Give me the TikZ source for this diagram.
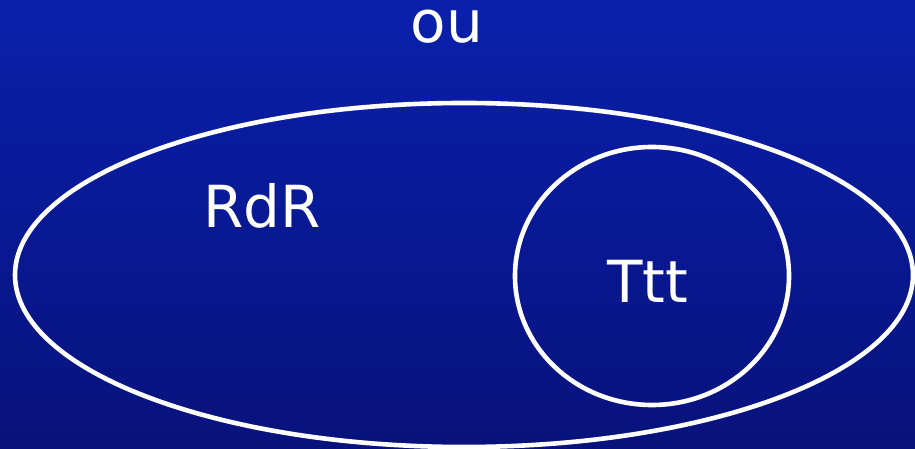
\documentclass[tikz,border=0pt]{standalone}
\usepackage{fontspec}
\setmainfont{DejaVu Sans}
\definecolor{bgtop}{RGB}{10,32,172}
\definecolor{bgbot}{RGB}{8,18,124}
\tikzset{
  label/.style={text=white, inner sep=0pt, anchor=base, font=\fontsize{58}{60}\selectfont},
  outline/.style={draw=white, line width=4.6pt}
}
\begin{document}
\begin{tikzpicture}[x=1pt,y=1pt]
\shade[top color=bgtop, bottom color=bgbot] (0,0) rectangle (915,449);
\useasboundingbox (0,0) rectangle (915,449);
\draw[outline] (464,174) ellipse [x radius=449, y radius=172];
\draw[outline] (652,173) ellipse [x radius=137, y radius=129];
\node[label] (ou) at (447,406) {ou};
\node[label] (rdr) at (262,221) {RdR};
\node[label] (ttt) at (648,146) {Ttt};
\end{tikzpicture}
\end{document}
